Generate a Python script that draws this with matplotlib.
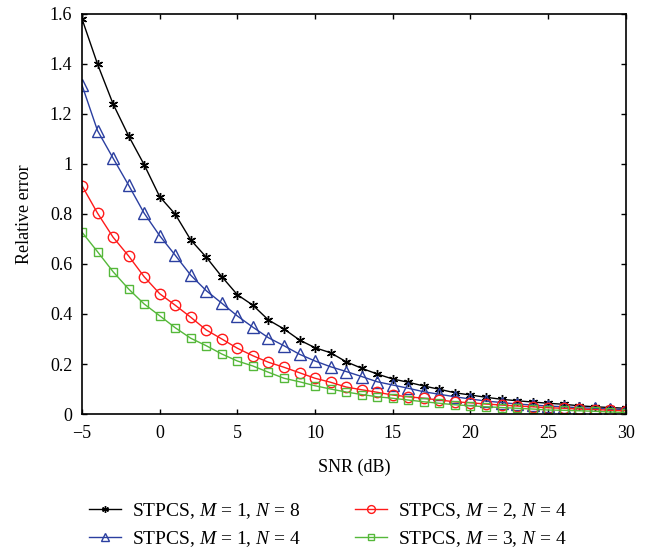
import numpy as np
import matplotlib
matplotlib.use("Agg")
import matplotlib.pyplot as plt

snr = np.arange(-5, 31)

err_m1_n8 = [1.58, 1.399, 1.24, 1.112, 0.997, 0.869, 0.799, 0.696, 0.627, 0.549,
             0.477, 0.435, 0.376, 0.34, 0.296, 0.265, 0.245, 0.209, 0.183, 0.16,
             0.14, 0.127, 0.112, 0.099, 0.085, 0.076, 0.067, 0.059, 0.053, 0.048,
             0.043, 0.039, 0.033, 0.029, 0.026, 0.023]
err_m1_n4 = [1.315, 1.133, 1.023, 0.915, 0.803, 0.713, 0.635, 0.555, 0.493, 0.443,
             0.392, 0.347, 0.305, 0.273, 0.239, 0.212, 0.189, 0.17, 0.15, 0.129,
             0.116, 0.103, 0.089, 0.079, 0.069, 0.06, 0.052, 0.046, 0.04, 0.036,
             0.032, 0.029, 0.025, 0.023, 0.02, 0.018]
err_m2_n4 = [0.913, 0.803, 0.707, 0.632, 0.549, 0.481, 0.435, 0.387, 0.336, 0.3,
             0.263, 0.233, 0.207, 0.187, 0.165, 0.143, 0.127, 0.108, 0.097, 0.087,
             0.076, 0.069, 0.063, 0.056, 0.049, 0.045, 0.04, 0.036, 0.032, 0.029,
             0.025, 0.023, 0.02, 0.018, 0.015, 0.013]
err_m3_n4 = [0.727, 0.649, 0.569, 0.5, 0.44, 0.393, 0.345, 0.303, 0.273, 0.24,
             0.212, 0.192, 0.167, 0.143, 0.129, 0.113, 0.1, 0.088, 0.078, 0.069,
             0.063, 0.056, 0.049, 0.043, 0.037, 0.033, 0.029, 0.026, 0.023, 0.02,
             0.016, 0.015, 0.013, 0.011, 0.008, 0.006]

labels = [r"STPCS, $M$ = 1, $N$ = 8",
          r"STPCS, $M$ = 1, $N$ = 4",
          r"STPCS, $M$ = 2, $N$ = 4",
          r"STPCS, $M$ = 3, $N$ = 4"]

plt.rcParams["font.family"] = "Liberation Serif"
plt.rcParams["mathtext.fontset"] = "custom"
plt.rcParams["mathtext.it"] = "Liberation Serif:italic"
plt.rcParams["mathtext.rm"] = "Liberation Serif"

fig = plt.figure(figsize=(6.56, 5.55), dpi=100)
ax = fig.add_axes([0.125, 0.254, 0.829, 0.721])

l1, = ax.plot(snr, err_m1_n8, color="black", lw=1, marker=(6, 2, 0), ms=6.5,
              mew=1, label=labels[0])
l2, = ax.plot(snr, err_m1_n4, color="#2b3fa0", lw=1, marker="^", ms=8,
              mfc="none", mew=1, label=labels[1])
l3, = ax.plot(snr, err_m2_n4, color="#ff1a1a", lw=1, marker="o", ms=7.5,
              mfc="none", mew=1, label=labels[2])
l4, = ax.plot(snr, err_m3_n4, color="#55b83a", lw=1, marker="s", ms=5.5,
              mfc="none", mew=1, label=labels[3])

ax.set_xlim(-5, 30)
ax.set_ylim(0, 1.6)
ax.set_xticks(np.arange(-5, 31, 5))
ax.set_yticks(np.arange(0, 1.61, 0.2))
ax.set_yticklabels(["0", "0.2", "0.4", "0.6", "0.8", "1", "1.2", "1.4", "1.6"])
ax.tick_params(direction="in", top=True, right=True, labelsize=13, length=3.5,
               width=1)
ax.tick_params(axis="x", pad=8)
ax.tick_params(axis="y", pad=7)
for s in ax.spines.values():
    s.set_linewidth(1.2)
ax.set_xlabel("SNR (dB)", fontsize=13, labelpad=12)
ax.set_ylabel("Relative error", fontsize=13, labelpad=12)

handles = [l1, l2, l3, l4]
fig.legend(handles, labels, loc="lower center", bbox_to_anchor=(0.5, -0.02),
           ncol=2, frameon=False, fontsize=14, handlelength=1.65,
           handletextpad=0.55, columnspacing=2.8, labelspacing=0.4,
           markerscale=0.75)

fig.savefig("out.png", dpi=100)
